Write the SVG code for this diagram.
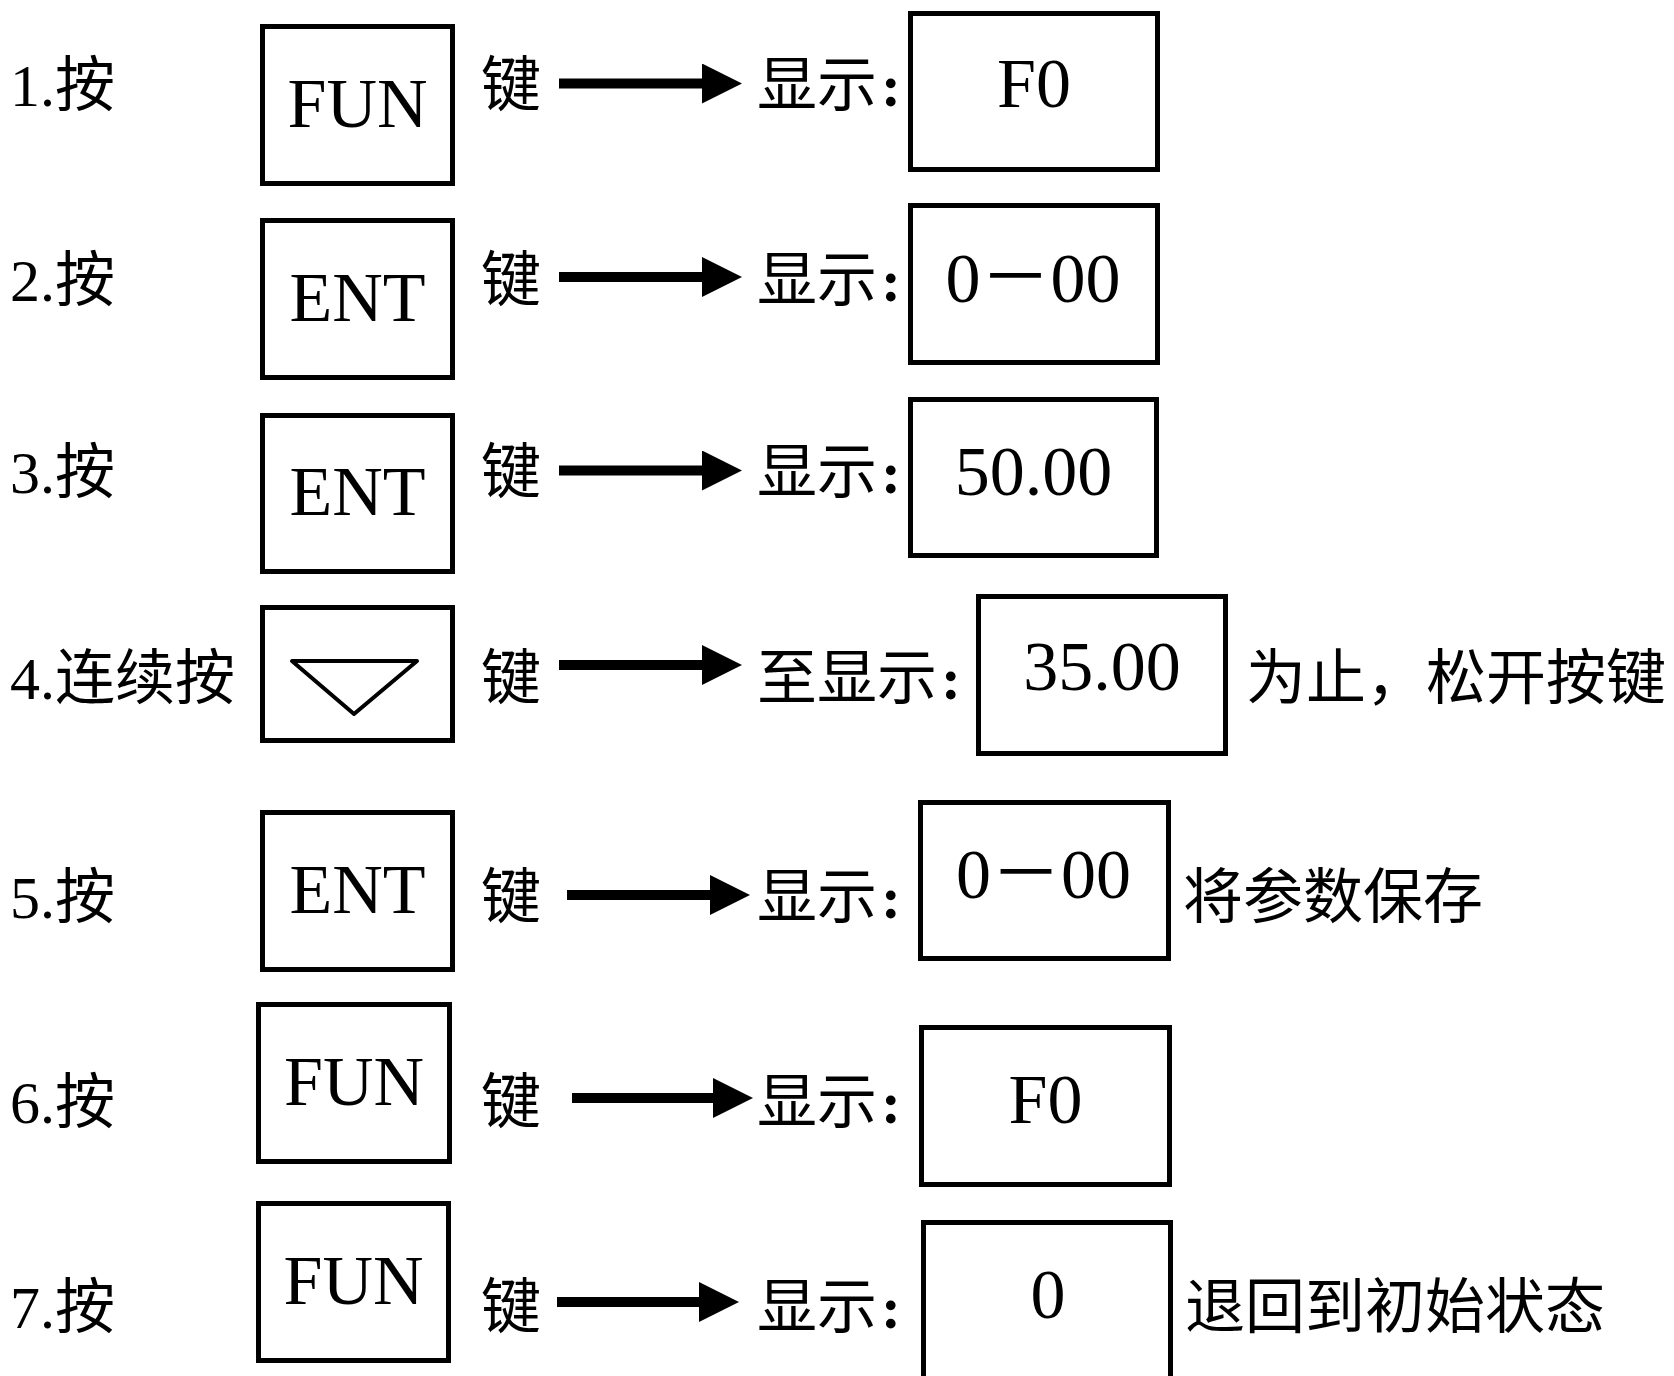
<svg xmlns="http://www.w3.org/2000/svg" width="1674" height="1376" viewBox="0 0 1674 1376">
<style>
  .box { fill: #ffffff; stroke: #000000; stroke-width: 5; }
  .t { font-family: "Liberation Serif", "Noto Sans CJK SC", serif; font-size: 60px; fill: #000000; }
  .c { font-weight: bold; }
  .k { font-family: "Liberation Serif", "Noto Sans CJK SC", serif; font-size: 70px; fill: #000000; text-anchor: middle; }
  .arrow { stroke: #000000; stroke-width: 10; fill: none; marker-end: url(#ah); }
  .tri { fill: none; stroke: #000000; stroke-width: 4; stroke-linejoin: round; stroke-linecap: round; }
</style>
<defs>
  <marker id="ah" markerUnits="userSpaceOnUse" markerWidth="40" markerHeight="40" viewBox="0 0 40 40" refX="0" refY="20" orient="auto">
    <path d="M0,0 L40,20 L0,40 Z" fill="#000000"/>
  </marker>
</defs>
<rect x="0" y="0" width="1674" height="1376" fill="#ffffff"/>

<!-- row labels -->
<g id="labels">
  <text class="t" x="10" y="106">1.按</text>
  <text class="t" x="10" y="301">2.按</text>
  <text class="t" x="10" y="493">3.按</text>
  <text class="t" x="10" y="699">4.连续按</text>
  <text class="t" x="10" y="918">5.按</text>
  <text class="t" x="10" y="1123">6.按</text>
  <text class="t" x="10" y="1328">7.按</text>
  <text class="t" x="481" y="106">键</text>
  <text class="t" x="481" y="301">键</text>
  <text class="t" x="481" y="493">键</text>
  <text class="t" x="481" y="699">键</text>
  <text class="t" x="481" y="918">键</text>
  <text class="t" x="481" y="1123">键</text>
  <text class="t" x="481" y="1328">键</text>
  <text class="t" x="757" y="106">显示<tspan class="c" dx="4">:</tspan></text>
  <text class="t" x="757" y="301">显示<tspan class="c" dx="4">:</tspan></text>
  <text class="t" x="757" y="493">显示<tspan class="c" dx="4">:</tspan></text>
  <text class="t" x="757" y="699">至显示<tspan class="c" dx="4">:</tspan></text>
  <text class="t" x="757" y="918">显示<tspan class="c" dx="4">:</tspan></text>
  <text class="t" x="757" y="1123">显示<tspan class="c" dx="4">:</tspan></text>
  <text class="t" x="757" y="1328">显示<tspan class="c" dx="4">:</tspan></text>
  <text class="t" x="1246" y="699">为止，松开按键</text>
  <text class="t" x="1183" y="918">将参数保存</text>
  <text class="t" x="1185" y="1328">退回到初始状态</text>
</g>

<!-- key nodes -->
<g id="key1"><rect class="box" x="262.5" y="26.5" width="190" height="157"/><text class="k" x="357.5" y="127">FUN</text></g>
<g id="key2"><rect class="box" x="262.5" y="220.5" width="190" height="157"/><text class="k" x="357.5" y="321">ENT</text></g>
<g id="key3"><rect class="box" x="262.5" y="415.5" width="190" height="156"/><text class="k" x="357.5" y="515">ENT</text></g>
<g id="key4"><rect class="box" x="262.5" y="607.5" width="190" height="133"/><path class="tri" d="M292,661 L417,661 L354,714 Z"/></g>
<g id="key5"><rect class="box" x="262.5" y="812.5" width="190" height="157"/><text class="k" x="357.5" y="913">ENT</text></g>
<g id="key6"><rect class="box" x="258.5" y="1004.5" width="191" height="157"/><text class="k" x="354" y="1105">FUN</text></g>
<g id="key7"><rect class="box" x="258.5" y="1203.5" width="190" height="157"/><text class="k" x="353.5" y="1304">FUN</text></g>

<!-- display nodes -->
<g id="disp1"><rect class="box" x="910.5" y="13.5" width="247" height="156"/><text class="k" x="1034" y="107">F0</text></g>
<g id="disp2"><rect class="box" x="910.5" y="205.5" width="247" height="157"/><text class="k" x="1033" y="302">0－00</text></g>
<g id="disp3"><rect class="box" x="910.5" y="399.5" width="246" height="156"/><text class="k" x="1033.5" y="495">50.00</text></g>
<g id="disp4"><rect class="box" x="978.5" y="596.5" width="247" height="157"/><text class="k" x="1102" y="690">35.00</text></g>
<g id="disp5"><rect class="box" x="920.5" y="802.5" width="248" height="156"/><text class="k" x="1043.5" y="898">0－00</text></g>
<g id="disp6"><rect class="box" x="921.5" y="1027.5" width="248" height="157"/><text class="k" x="1045.5" y="1123">F0</text></g>
<g id="disp7"><rect class="box" x="923.5" y="1222.5" width="247" height="200"/><text class="k" x="1048" y="1318">0</text></g>

<!-- connectors -->
<g id="connectors">
  <path class="arrow" d="M559,83.5 H702"/>
  <path class="arrow" d="M559,277 H702"/>
  <path class="arrow" d="M559,470.5 H702"/>
  <path class="arrow" d="M559,665 H702"/>
  <path class="arrow" d="M567,895 H710"/>
  <path class="arrow" d="M572,1098 H713"/>
  <path class="arrow" d="M557,1302 H699"/>
</g>
</svg>
